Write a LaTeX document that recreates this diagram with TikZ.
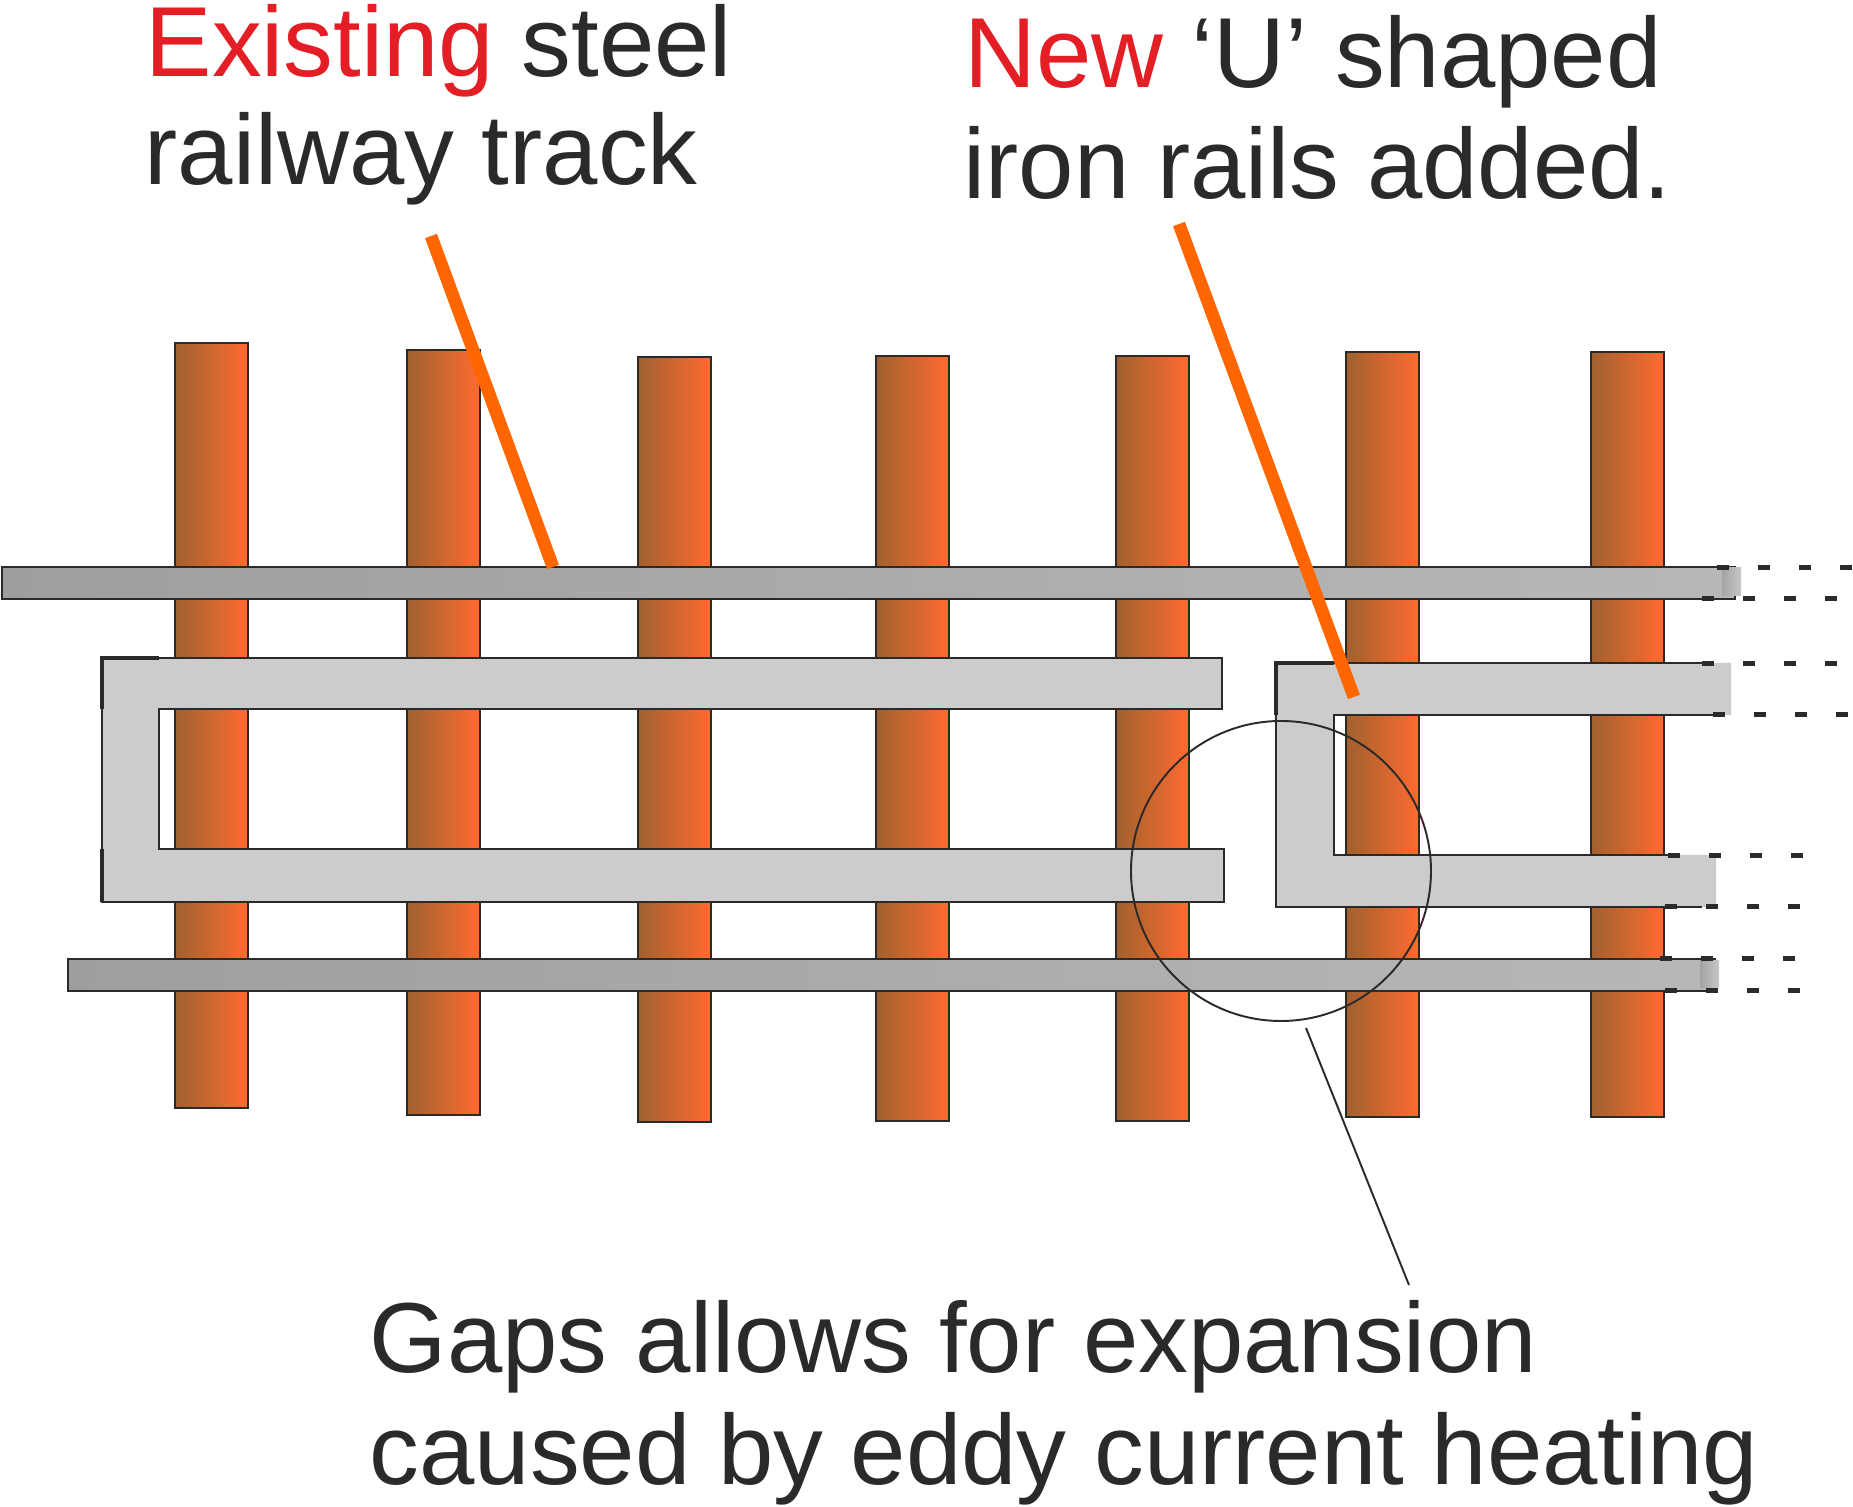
\documentclass[tikz,border=0pt]{standalone}
\usepackage{fontspec}
\setmainfont{Liberation Sans}
\definecolor{inkdark}{HTML}{2B2A29}
\definecolor{inkred}{HTML}{E31E24}
\definecolor{leadorange}{HTML}{FF6600}
\definecolor{tieleft}{HTML}{A0612F}
\definecolor{tieright}{HTML}{FF6B30}
\tikzset{
  tie/.style={draw=inkdark,line width=0.7pt,left color=tieleft,right color=tieright},
  steelrail/.style={draw=inkdark,line width=0.7pt,left color=black!38,right color=black!28},
  railend/.style={left color=black!36,right color=black!22},
  ironrail/.style={fill=black!20},
  ironedge/.style={draw=inkdark,line width=0.7pt},
  ironheavy/.style={draw=inkdark,line width=1.1pt},
  raildash/.style={draw=inkdark,line width=0.05cm,dash pattern=on 0.12cm off 0.29cm},
  leader/.style={draw=leadorange,line width=3.6pt},
  caption/.style={text=inkdark,anchor=base west,inner sep=0pt,font=\fontsize{28.3}{34}\selectfont}
}
\begin{document}
\begin{tikzpicture}[x=0.01cm,y=-0.01cm]
\useasboundingbox (0,0) rectangle (1853,1507);
% sleepers
\foreach \tx/\ty in {175/343,407/350,638/357,876/356,1116/356,1346/352,1591/352}
  \draw[tie] (\tx,\ty) rectangle (\tx+73,\ty+765);
% steel rails
\draw[steelrail] (2,567) rectangle (1735,599);
\draw[steelrail] (68,959) rectangle (1715,991);
\fill[railend] (1722,568) rectangle (1741,596);
\fill[railend] (1700,961) rectangle (1719,988);
% left U
\filldraw[ironrail,ironedge] (102,658) -- (1222,658) -- (1222,709) -- (159,709) -- (159,849)
  -- (1224,849) -- (1224,902) -- (102,902) -- cycle;
\draw[ironheavy] (102,709) -- (102,658) -- (159,658);
\draw[ironheavy] (102,849) -- (102,902);
% right U
\fill[ironrail] (1276,663) -- (1731,663) -- (1731,715) -- (1334,715) -- (1334,855)
  -- (1716,855) -- (1716,907) -- (1276,907) -- cycle;
\draw[ironedge] (1702,663) -- (1276,663) -- (1276,907) -- (1702,907);
\draw[ironedge] (1713,715) -- (1334,715) -- (1334,855) -- (1680,855);
\draw[ironheavy] (1276,715) -- (1276,663) -- (1334,663);
% dashes past the rail ends
\draw[raildash] (1717,568) -- (1853,568);
\draw[raildash] (1702,599) -- (1853,599);
\draw[raildash] (1702,664) -- (1853,664);
\draw[raildash] (1713,715) -- (1853,715);
\draw[raildash] (1668,856) -- (1804,856);
\draw[raildash] (1665,907) -- (1801,907);
\draw[raildash] (1660,959) -- (1796,959);
\draw[raildash] (1665,991) -- (1801,991);
% gap circle
\draw[draw=inkdark,line width=0.55pt] (1281,871) circle (150);
% labels
\node[caption] (existing) at (145,77) {\textcolor{inkred}{Existing} steel};
\node[caption] (track) at (144,185) {railway track};
\node[caption] (newrail) at (964,88) {\textcolor{inkred}{New} ‘U’ shaped};
\node[caption] (ironrails) at (963,199) {iron rails added.};
\node[caption] (gaps) at (369,1373) {Gaps allows for expansion};
\node[caption] (eddy) at (369,1485) {caused by eddy current heating};
% leaders
\coordinate (tracktop) at (431,236);
\coordinate (trackhit) at (553,567);
\coordinate (irontop) at (1179,224);
\coordinate (ironhit) at (1354,697);
\coordinate (gapedge) at (1306,1028);
\coordinate (gapfoot) at (1409,1285);
\draw[leader] (tracktop) -- (trackhit);
\draw[leader] (irontop) -- (ironhit);
\draw[draw=inkdark,line width=0.55pt] (gapedge) -- (gapfoot);
\end{tikzpicture}
\end{document}
